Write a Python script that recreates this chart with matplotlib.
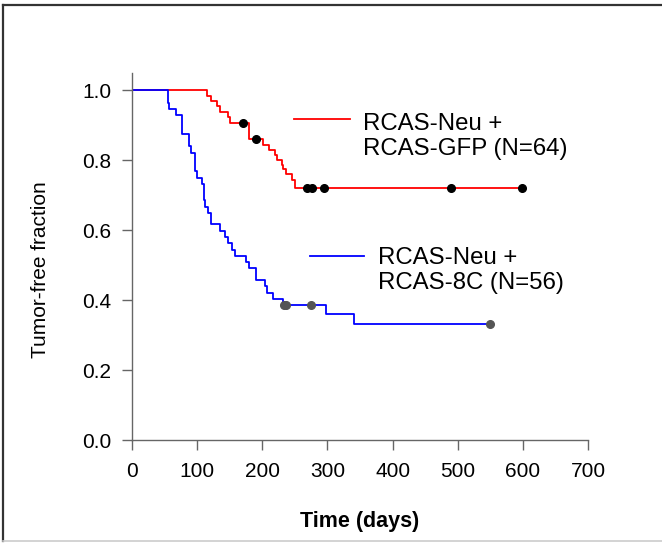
import matplotlib.pyplot as plt
import numpy as np
from matplotlib.lines import Line2D

plt.rc("font", family=["Liberation Sans", "DejaVu Sans"], size=15)

# Kaplan-Meier steps: day of each drop and the tumor-free fraction after it
gfp_days = [0, 115, 122, 130, 135, 148, 150.5, 180, 200.7, 211, 219.6, 222,
            230, 232.5, 236, 245, 250, 598]
gfp_surv = [1.0, 0.984, 0.969, 0.953, 0.938, 0.922, 0.906, 0.859, 0.844,
            0.829, 0.814, 0.801, 0.786, 0.774, 0.760, 0.744, 0.720, 0.720]
gfp_censored = [170, 190, 269, 276, 295, 490, 598]

c8_days = [0, 55, 57.5, 67, 77.5, 88, 90.5, 97, 100, 107, 110, 112, 116, 122,
           135, 143, 148, 153, 158, 175, 180, 190, 204, 207, 217, 232, 298,
           341, 549]
c8_surv = [1.0, 0.964, 0.946, 0.929, 0.875, 0.839, 0.821, 0.768, 0.750, 0.732,
           0.686, 0.667, 0.648, 0.617, 0.597, 0.581, 0.562, 0.543, 0.527,
           0.510, 0.492, 0.457, 0.440, 0.421, 0.403, 0.386, 0.359, 0.331,
           0.331]
c8_censored = [233, 236, 275, 549]

gfp_label = "RCAS-Neu +\nRCAS-GFP (N=64)"
c8_label = "RCAS-Neu +\nRCAS-8C (N=56)"

x_ticks = [0, 100, 200, 300, 400, 500, 600, 700]
y_ticks = [0.0, 0.2, 0.4, 0.6, 0.8, 1.0]


def level_at(days, surv, t):
    # value of the step curve at time t
    idx = np.searchsorted(days, t, side="right") - 1
    return np.asarray(surv)[idx]


fig = plt.figure(figsize=(6.62, 5.46), dpi=100)
ax = fig.add_axes([132 / 662, 1 - 440 / 546, 456 / 662, 367.5 / 546])

ax.step(gfp_days, gfp_surv, where="post", color="#ff0000", lw=1.3)
ax.step(c8_days, c8_surv, where="post", color="#0000ff", lw=1.3)

ax.plot(gfp_censored, level_at(gfp_days, gfp_surv, gfp_censored), "o",
        color="black", ms=5.5, zorder=5)
ax.plot(c8_censored, level_at(c8_days, c8_surv, c8_censored), "o",
        color="#555555", ms=5.5, zorder=5)

# hand-placed legend entries
ax.plot([249, 334], [0.918, 0.918], color="#ff0000", lw=1.3)
ax.text(354, 0.868, gfp_label, fontsize=17.3, va="center", ha="left",
        linespacing=1.2)
ax.plot([273, 356], [0.527, 0.527], color="#0000ff", lw=1.3)
ax.text(377, 0.484, c8_label, fontsize=17.3, va="center", ha="left",
        linespacing=1.2)

ax.set_xlim(0, 700)
ax.set_ylim(0, 1.05)
ax.set_xticks(x_ticks)
ax.set_yticks(y_ticks)
ax.set_yticklabels(["%.1f" % v for v in y_ticks])

for side in ["top", "right"]:
    ax.spines[side].set_visible(False)
for side in ["left", "bottom"]:
    ax.spines[side].set_color("#666666")
    ax.spines[side].set_linewidth(1.0)
ax.tick_params(direction="out", length=7, width=1.0, color="#666666",
               labelsize=15)
ax.tick_params(axis="x", pad=9)
ax.tick_params(axis="y", pad=8)

fig.text(360 / 662, 1 - 522 / 546, "Time (days)", fontsize=15.5,
         fontweight="bold", ha="center", va="center")
fig.text(41 / 662, 1 - 270 / 546, "Tumor-free fraction", fontsize=15,
         rotation=90, ha="center", va="center")

# outer frame
fig.add_artist(Line2D([3 / 662, 3 / 662], [1 - 5 / 546, 1 - 541 / 546],
                      transform=fig.transFigure, color="#333333", lw=1.6))
fig.add_artist(Line2D([3 / 662, 1], [1 - 5 / 546, 1 - 5 / 546],
                      transform=fig.transFigure, color="#333333", lw=1.6))
fig.add_artist(Line2D([3 / 662, 1], [1 - 541 / 546, 1 - 541 / 546],
                      transform=fig.transFigure, color="#cccccc", lw=1.2))

fig.savefig("out.png", dpi=100)
